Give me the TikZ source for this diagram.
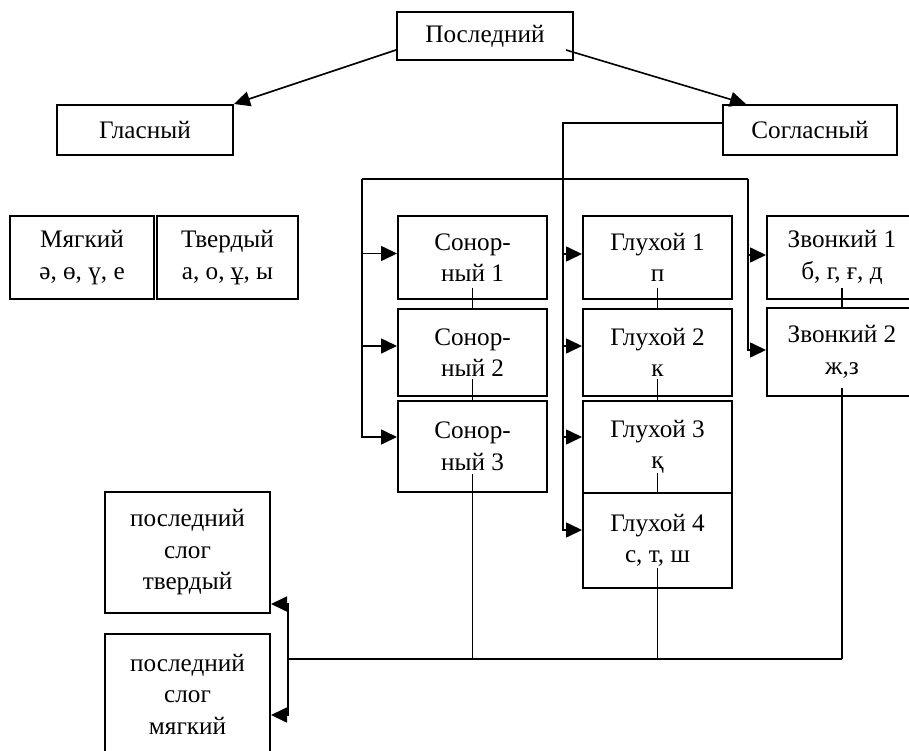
\documentclass[tikz,border=0pt]{standalone}
\usepackage{fontspec}
\setmainfont{Liberation Serif}
\usetikzlibrary{arrows.meta}
\begin{document}
\begin{tikzpicture}[x=1pt,y=-1pt,
  box/.style={draw, line width=2pt, inner sep=0pt, align=center,
    font=\fontsize{25.2}{31.5}\selectfont},
  ln/.style={line width=1.6pt},
  arr/.style={ln, -{Triangle[length=16pt,width=15pt]}}]
\useasboundingbox (0,0) rectangle (909,751);
\begin{scope}
\clip (0,0) rectangle (909,751);
% boxes
\node[box, minimum width=176pt, minimum height=48pt] (last) at (485,36) {Последний};
\node[box, minimum width=176pt, minimum height=50pt] (glas) at (145,130) {Гласный};
\node[box, minimum width=174pt, minimum height=50pt] (sogl) at (810,130) {Согласный};
\node[box, minimum width=144pt, minimum height=83pt] (soft) at (82,257.5) {Мягкий\\ә, ө, ү, е};
\node[box, minimum width=141pt, minimum height=83pt] (hard) at (227.5,257.5) {Твердый\\а, о, ұ, ы};
\node[box, minimum width=149pt, minimum height=83pt] (son1) at (472.5,257.5) {Сонор-\\ный 1};
\node[box, minimum width=149pt, minimum height=87pt] (son2) at (472.5,352.5) {Сонор-\\ный 2};
\node[box, minimum width=149pt, minimum height=91pt] (son3) at (472.5,446.5) {Сонор-\\ный 3};
\node[box, minimum width=149pt, minimum height=83pt] (gl1) at (657.5,257.5) {Глухой 1\\п};
\node[box, minimum width=149pt, minimum height=87pt] (gl2) at (657.5,352.5) {Глухой 2\\к};
\node[box, minimum width=149pt, minimum height=92pt] (gl3) at (657.5,447) {Глухой 3\\қ};
\node[box, minimum width=149pt, minimum height=95pt] (gl4) at (657.5,540.5) {Глухой 4\\с, т, ш};
\node[box, minimum width=150pt, minimum height=83pt] (zv1) at (842,257.5) {Звонкий 1\\б, г, ғ, д};
\node[box, minimum width=150pt, minimum height=88pt] (zv2) at (842,352) {Звонкий 2\\ж,з};
\node[box, minimum width=165pt, minimum height=121pt] (tv) at (187.5,552.5) {последний\\слог\\твердый};
\node[box, minimum width=165pt, minimum height=120pt] (mg) at (187.5,694) {последний\\слог\\мягкий};
% top arrows
\draw[arr] ([yshift=-14pt]last.west) -- (glas.north east);
\draw[arr] ([xshift=-8pt,yshift=-14pt]last.east) -- ([xshift=24pt]sogl.north west);
% consonant trunk
\coordinate (g4a) at ([xshift=-19pt,yshift=10.5pt]gl4.west);
\draw[arr] ([yshift=7pt]sogl.west) -| (g4a) -- ([yshift=10.5pt]gl4.west);
\draw[arr] ([xshift=-19pt,yshift=3.5pt]gl1.west) -- ([yshift=3.5pt]gl1.west);
\draw[arr] ([xshift=-19pt,yshift=6.5pt]gl2.west) -- ([yshift=6.5pt]gl2.west);
\draw[arr] ([xshift=-19pt,yshift=10pt]gl3.west) -- ([yshift=10pt]gl3.west);
% upper distribution line
\coordinate (tl) at (362,179);
\coordinate (tr) at (748,179);
\draw[ln] (tl) -- (tr);
\draw[arr] (tl) |- ([yshift=9.5pt]son3.west);
\draw[arr] (tr) |- ([yshift=2pt]zv2.west);
\draw[arr] ([xshift=-36pt,yshift=4pt]son1.west) -- ([yshift=4pt]son1.west);
\draw[arr] ([xshift=-36pt,yshift=6.5pt]son2.west) -- ([yshift=6.5pt]son2.west);
\draw[arr] ([xshift=-19pt,yshift=2.5pt]zv1.west) -- ([yshift=2.5pt]zv1.west);
% stack links
\draw[ln] ([yshift=-30pt]son1.center) -- (son2.north);
\draw[ln] ([yshift=-26pt]son2.center) -- (son3.north);
\draw[ln] ([yshift=-30pt]gl1.center) -- (gl2.north);
\draw[ln] ([yshift=-26pt]gl2.center) -- (gl3.north);
\draw[ln] ([yshift=-26pt]gl3.center) -- (gl4.north);
\draw[ln] ([yshift=-30pt]zv1.center) -- (zv2.north);
% bottom collector
\coordinate (bj) at (288,659);
\draw[ln] ([yshift=-27pt]son3.center) -- (son3.center |- bj);
\draw[ln] ([yshift=-27pt]gl4.center) -- (gl4.center |- bj);
\draw[ln] ([yshift=-36pt]zv2.center) -- (zv2.center |- bj);
\draw[ln] (bj) -- (zv2.center |- bj);
\draw[arr] (bj) |- ([yshift=10pt]tv.south east);
\draw[arr] (bj) |- ([yshift=-21pt]mg.east);
\end{scope}
\end{tikzpicture}
\end{document}
